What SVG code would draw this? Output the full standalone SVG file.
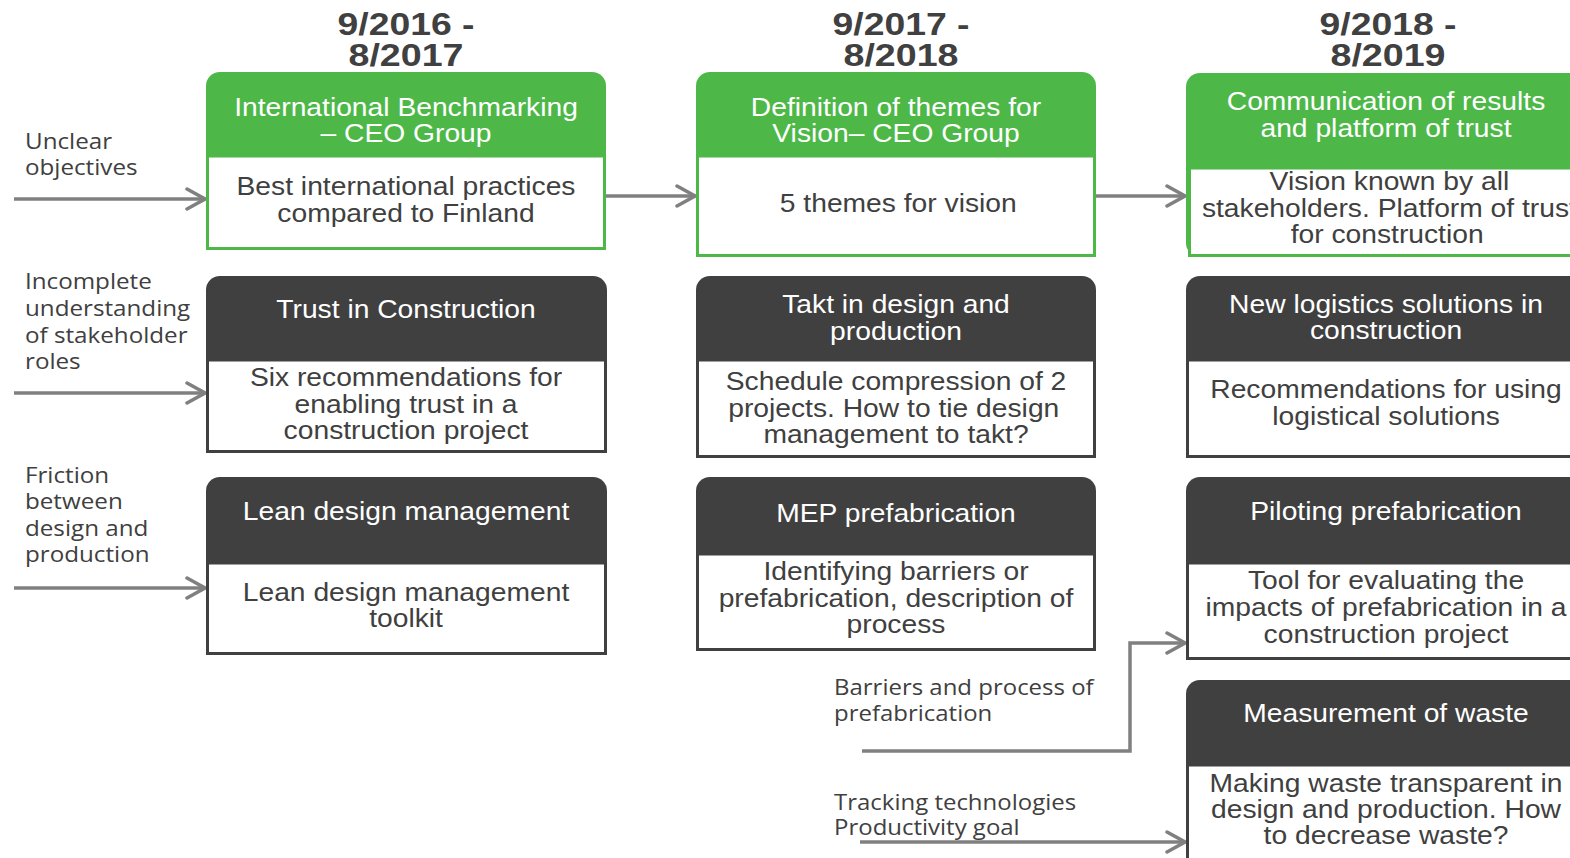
<svg xmlns="http://www.w3.org/2000/svg" width="1570" height="858" viewBox="0 0 1570 858">
<style>
.gh{fill:#4db848}
.gb{fill:#fff;stroke:#4db848;stroke-width:3}
.dh{fill:#404040}
.db{fill:#fff;stroke:#404040;stroke-width:3}
.ht{font-family:"Liberation Sans",Arial,sans-serif;font-size:25px;fill:#fff;text-anchor:middle}
.bt{font-family:"Liberation Sans",Arial,sans-serif;font-size:25px;fill:#404040;text-anchor:middle}
.dt{font-family:"Liberation Sans",Arial,sans-serif;font-size:32px;font-weight:bold;fill:#404040;text-anchor:middle}
.lt{font-family:"Open Sans","Noto Sans",sans-serif;font-size:22px;fill:#404040}
.bl{font-family:"Open Sans","Noto Sans",sans-serif;font-size:22px;fill:#404040}
.cn{fill:none;stroke:#808080;stroke-width:3.5}
</style>
<defs>
<marker id="ah" markerUnits="userSpaceOnUse" viewBox="0 0 22 24" refX="20" refY="12" markerWidth="22" markerHeight="24" orient="auto">
<path d="M2,2 L20,12 L2,22" fill="none" stroke="#808080" stroke-width="3.5" stroke-linecap="round"/>
</marker>
</defs>
<rect width="1570" height="858" fill="#fff"/>

<g id="dates">
<text class="dt" x="406" y="35" textLength="137" lengthAdjust="spacingAndGlyphs">9/2016 -</text>
<text class="dt" x="406" y="66" textLength="115" lengthAdjust="spacingAndGlyphs">8/2017</text>
<text class="dt" x="901" y="35" textLength="137" lengthAdjust="spacingAndGlyphs">9/2017 -</text>
<text class="dt" x="901" y="66" textLength="115" lengthAdjust="spacingAndGlyphs">8/2018</text>
<text class="dt" x="1388" y="35" textLength="137" lengthAdjust="spacingAndGlyphs">9/2018 -</text>
<text class="dt" x="1388" y="66" textLength="115" lengthAdjust="spacingAndGlyphs">8/2019</text>
</g>

<g id="problems">
<g transform="translate(25 0) scale(1.1 1)">
<text class="lt" x="0" y="149">Unclear</text>
<text class="lt" x="0" y="175">objectives</text>
<text class="lt" x="0" y="289">Incomplete</text>
<text class="lt" x="0" y="316">understanding</text>
<text class="lt" x="0" y="343">of stakeholder</text>
<text class="lt" x="0" y="369">roles</text>
<text class="lt" x="0" y="483">Friction</text>
<text class="lt" x="0" y="509">between</text>
<text class="lt" x="0" y="536">design and</text>
<text class="lt" x="0" y="562">production</text>
</g>
<g transform="translate(834 0) scale(1.09 1)">
<text class="bl" x="0" y="695">Barriers and process of</text>
<text class="bl" x="0" y="721">prefabrication</text>
<text class="bl" x="0" y="810">Tracking technologies</text>
<text class="bl" x="0" y="835">Productivity goal</text>
</g>
</g>

<g id="connectors">
<path class="cn" d="M14,199 H205" marker-end="url(#ah)"/>
<path class="cn" d="M14,393 H205" marker-end="url(#ah)"/>
<path class="cn" d="M14,588 H205" marker-end="url(#ah)"/>
<path class="cn" d="M606,196 H695" marker-end="url(#ah)"/>
<path class="cn" d="M1096,196 H1185" marker-end="url(#ah)"/>
<path class="cn" d="M862,751 H1130 V643 H1185" marker-end="url(#ah)"/>
<path class="cn" d="M860,842 H1185" marker-end="url(#ah)"/>
</g>

<g id="benchmarking">
<rect class="gh" x="206" y="72" width="400" height="178" rx="14"/>
<rect class="gb" x="207.5" y="156" width="397" height="92.5"/>
<g transform="translate(406 0) scale(1.13 1)">
<text class="ht" x="0" y="116">International Benchmarking</text>
<text class="ht" x="0" y="142">– CEO Group</text>
<text class="bt" x="0" y="195">Best international practices</text>
<text class="bt" x="0" y="222">compared to Finland</text>
</g>
</g>

<g id="vision-themes">
<rect class="gh" x="696" y="72" width="400" height="185" rx="14"/>
<rect class="gb" x="697.5" y="156" width="397" height="99.5"/>
<g transform="translate(896 0) scale(1.13 1)">
<text class="ht" x="0" y="116">Definition of themes for</text>
<text class="ht" x="0" y="142">Vision– CEO Group</text>
<text class="bt" x="2" y="212">5 themes for vision</text>
</g>
</g>

<g id="communication">
<rect class="gh" x="1186" y="73" width="400" height="184" rx="14"/>
<rect class="gb" x="1189.5" y="168" width="396" height="87.5"/>
<g transform="translate(1386 0) scale(1.13 1)">
<text class="ht" x="0" y="110">Communication of results</text>
<text class="ht" x="0" y="137">and platform of trust</text>
<text class="bt" x="3" y="190">Vision known by all</text>
<text class="bt" x="3" y="217">stakeholders. Platform of trust</text>
<text class="bt" x="1" y="243">for construction</text>
</g>
</g>

<g id="trust">
<rect class="dh" x="206" y="276" width="401" height="177" rx="14"/>
<rect class="db" x="207.5" y="360" width="398" height="91.5"/>
<g transform="translate(406 0) scale(1.13 1)">
<text class="ht" x="0" y="318">Trust in Construction</text>
<text class="bt" x="0" y="386">Six recommendations for</text>
<text class="bt" x="0" y="413">enabling trust in a</text>
<text class="bt" x="0" y="439">construction project</text>
</g>
</g>

<g id="takt">
<rect class="dh" x="696" y="276" width="400" height="182" rx="14"/>
<rect class="db" x="697.5" y="360" width="397" height="96.5"/>
<g transform="translate(896 0) scale(1.13 1)">
<text class="ht" x="0" y="313">Takt in design and</text>
<text class="ht" x="0" y="340">production</text>
<text class="bt" x="0" y="390">Schedule compression of 2</text>
<text class="bt" x="-2" y="417">projects. How to tie design</text>
<text class="bt" x="0" y="443">management to takt?</text>
</g>
</g>

<g id="logistics">
<rect class="dh" x="1186" y="276" width="400" height="182" rx="14"/>
<rect class="db" x="1187.5" y="360" width="397" height="96.5"/>
<g transform="translate(1386 0) scale(1.13 1)">
<text class="ht" x="0" y="313">New logistics solutions in</text>
<text class="ht" x="0" y="339">construction</text>
<text class="bt" x="0" y="398">Recommendations for using</text>
<text class="bt" x="0" y="425">logistical solutions</text>
</g>
</g>

<g id="lean-design">
<rect class="dh" x="206" y="477" width="401" height="178" rx="14"/>
<rect class="db" x="207.5" y="563" width="398" height="90.5"/>
<g transform="translate(406 0) scale(1.13 1)">
<text class="ht" x="0" y="520">Lean design management</text>
<text class="bt" x="0" y="601">Lean design management</text>
<text class="bt" x="0" y="627">toolkit</text>
</g>
</g>

<g id="mep">
<rect class="dh" x="696" y="477" width="400" height="174" rx="14"/>
<rect class="db" x="697.5" y="554" width="397" height="95.5"/>
<g transform="translate(896 0) scale(1.13 1)">
<text class="ht" x="0" y="522">MEP prefabrication</text>
<text class="bt" x="0" y="580">Identifying barriers or</text>
<text class="bt" x="0" y="607">prefabrication, description of</text>
<text class="bt" x="0" y="633">process</text>
</g>
</g>

<g id="piloting">
<rect class="dh" x="1186" y="477" width="400" height="183" rx="14"/>
<rect class="db" x="1187.5" y="563" width="397" height="95.5"/>
<g transform="translate(1386 0) scale(1.13 1)">
<text class="ht" x="0" y="520">Piloting prefabrication</text>
<text class="bt" x="0" y="589">Tool for evaluating the</text>
<text class="bt" x="0" y="616">impacts of prefabrication in a</text>
<text class="bt" x="0" y="643">construction project</text>
</g>
</g>

<g id="waste">
<rect class="dh" x="1186" y="680" width="400" height="200" rx="14"/>
<rect class="db" x="1187.5" y="765" width="397" height="110"/>
<g transform="translate(1386 0) scale(1.13 1)">
<text class="ht" x="0" y="722">Measurement of waste</text>
<text class="bt" x="0" y="792">Making waste transparent in</text>
<text class="bt" x="0" y="818">design and production. How</text>
<text class="bt" x="0" y="844">to decrease waste?</text>
</g>
</g>
</svg>
